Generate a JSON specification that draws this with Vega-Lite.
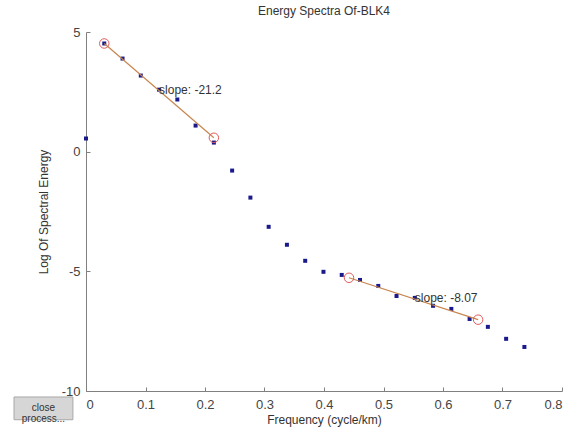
{
  "$schema": "https://vega.github.io/schema/vega-lite/v6.json",
  "width": 476,
  "height": 359,
  "autosize": "none",
  "padding": {"left": 86, "top": 32, "right": 20, "bottom": 43},
  "background": "white",
  "config": {
    "view": {"stroke": null},
    "font": "Liberation Sans",
    "axis": {
      "grid": false,
      "domainColor": "#808080",
      "tickColor": "#808080",
      "tickSize": -4,
      "labelColor": "#444444",
      "labelFont": "Liberation Sans",
      "labelFontSize": 13,
      "titleFont": "Liberation Sans",
      "titleFontSize": 12,
      "titleFontWeight": "normal",
      "titleColor": "#333333"
    }
  },
  "title": {
    "text": "Energy Spectra Of-BLK4",
    "font": "Liberation Sans",
    "fontSize": 12,
    "fontWeight": "normal",
    "color": "#333333",
    "offset": 8
  },
  "datasets": {
    "spectrum": [
      {"f": 0.0, "e": 0.55},
      {"f": 0.0307, "e": 4.52},
      {"f": 0.0614, "e": 3.89},
      {"f": 0.0921, "e": 3.18},
      {"f": 0.1228, "e": 2.59},
      {"f": 0.1535, "e": 2.18},
      {"f": 0.1842, "e": 1.09},
      {"f": 0.2149, "e": 0.38},
      {"f": 0.2456, "e": -0.79},
      {"f": 0.2763, "e": -1.92},
      {"f": 0.307, "e": -3.14},
      {"f": 0.3377, "e": -3.89},
      {"f": 0.3684, "e": -4.56},
      {"f": 0.3991, "e": -5.02},
      {"f": 0.4298, "e": -5.15},
      {"f": 0.4605, "e": -5.36},
      {"f": 0.4912, "e": -5.61},
      {"f": 0.5219, "e": -6.03},
      {"f": 0.5526, "e": -6.11},
      {"f": 0.5833, "e": -6.44},
      {"f": 0.614, "e": -6.57},
      {"f": 0.6447, "e": -6.99},
      {"f": 0.6754, "e": -7.32},
      {"f": 0.7061, "e": -7.82},
      {"f": 0.7368, "e": -8.16}
    ],
    "fits": [
      {"seg": "low", "f": 0.0307, "e": 4.52},
      {"seg": "low", "f": 0.2149, "e": 0.58},
      {"seg": "high", "f": 0.442, "e": -5.27},
      {"seg": "high", "f": 0.659, "e": -7.02}
    ],
    "slopes": [
      {"f": 0.1228, "e": 2.59, "label": "slope: -21.2"},
      {"f": 0.5526, "e": -6.11, "label": "slope: -8.07"}
    ]
  },
  "layer": [
    {
      "data": {"name": "spectrum"},
      "mark": {"type": "square", "filled": true, "size": 16, "color": "#1a1a8c", "opacity": 1},
      "encoding": {
        "x": {
          "field": "f",
          "type": "quantitative",
          "scale": {"domain": [0, 0.8], "nice": false, "zero": false},
          "axis": {
            "title": "Frequency (cycle/km)",
            "values": [0, 0.1, 0.2, 0.3, 0.4, 0.5, 0.6, 0.7, 0.8],
            "format": ".1~f",
            "labelPadding": 11,
            "titlePadding": 3
          }
        },
        "y": {
          "field": "e",
          "type": "quantitative",
          "scale": {"domain": [-10, 5], "nice": false, "zero": false},
          "axis": {
            "title": "Log Of Spectral Energy",
            "values": [-10, -5, 0, 5],
            "labelExpr": "datum.value < 0 ? '-' + abs(datum.value) : '' + datum.value",
            "labelPadding": 10,
            "titlePadding": 11
          }
        }
      }
    },
    {
      "data": {"name": "fits"},
      "mark": {"type": "line", "color": "#c8864e", "strokeWidth": 1.2},
      "encoding": {
        "x": {"field": "f", "type": "quantitative"},
        "y": {"field": "e", "type": "quantitative"},
        "detail": {"field": "seg"}
      }
    },
    {
      "data": {"name": "fits"},
      "mark": {"type": "point", "shape": "circle", "filled": false, "size": 90, "color": "#e05a5a", "strokeWidth": 1, "opacity": 1},
      "encoding": {
        "x": {"field": "f", "type": "quantitative"},
        "y": {"field": "e", "type": "quantitative"}
      }
    },
    {
      "data": {"name": "slopes"},
      "mark": {"type": "text", "align": "left", "baseline": "middle", "fontSize": 12, "color": "#333333", "font": "Liberation Sans"},
      "encoding": {
        "x": {"field": "f", "type": "quantitative"},
        "y": {"field": "e", "type": "quantitative"},
        "text": {"field": "label"}
      }
    },
    {
      "data": {"values": [{"button": "close process..."}]},
      "mark": {"type": "rect", "clip": false, "fill": "#d6d6d6", "stroke": "#a8a8a8", "strokeWidth": 1},
      "encoding": {
        "x": {"datum": -0.121, "type": "quantitative"},
        "x2": {"datum": -0.022},
        "y": {"datum": -10.25, "type": "quantitative"},
        "y2": {"datum": -11.2}
      }
    },
    {
      "data": {"values": [{"button": "close process..."}]},
      "mark": {"type": "text", "clip": false, "align": "center", "baseline": "middle", "fontSize": 10, "color": "#333333", "font": "Liberation Sans", "lineHeight": 11},
      "encoding": {
        "x": {"datum": -0.0715, "type": "quantitative"},
        "y": {"datum": -10.73, "type": "quantitative"},
        "text": {"value": ["close", "process..."]}
      }
    }
  ]
}
